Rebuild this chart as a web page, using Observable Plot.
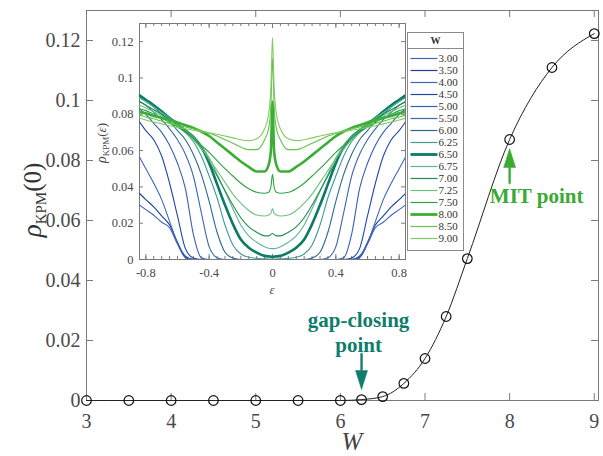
<!DOCTYPE html>
<html><head><meta charset="utf-8">
<script src="https://cdn.jsdelivr.net/npm/d3@7"></script>
<script src="https://cdn.jsdelivr.net/npm/@observablehq/plot@0.6"></script>
<style>
body{margin:0;background:#fff;}
#wrap{position:relative;width:603px;height:456px;font-family:"Liberation Serif",serif;background:#fff;}
#wrap svg{position:absolute;overflow:visible;}
</style></head><body><div id="wrap"></div>
<script>
// ---------- main chart data ----------
const W = [3, 3.5, 4, 4.5, 5, 5.5, 6, 6.25, 6.5, 6.75, 7, 7.25, 7.5, 8, 8.5, 9];
const rho0 = [0, 0, 0, 0, 0, 0, 0, 0.0003, 0.0013, 0.0057, 0.014, 0.028, 0.0473, 0.087, 0.111, 0.1223];
const xTicks = [3, 4, 5, 6, 7, 8, 9];
const yTicks = [0, 0.02, 0.04, 0.06, 0.08, 0.1, 0.12];

// ---------- inset data (symmetric in epsilon; values for eps >= 0) ----------
const eps = [0, 0.01, 0.025, 0.05, 0.1, 0.15, 0.2, 0.25, 0.3, 0.35, 0.4, 0.45, 0.5, 0.55, 0.6, 0.65, 0.7, 0.75, 0.8, 0.84];
const rho_W300 = [0,0,0,0,0,0,0,0,0,0,0,0,0,0.001,0.0085,0.0175,0.0205,0.0244,0.0275,0.030];
const rho_W350 = [0,0,0,0,0,0,0,0,0,0,0,0,0,0.0015,0.0095,0.019,0.024,0.029,0.033,0.0364];
const rho_W400 = [0,0,0,0,0,0,0,0,0,0,0,0,0,0.002,0.009,0.021,0.033,0.042,0.050,0.0565];
const rho_W450 = [0,0,0,0,0,0,0,0,0,0,0,0,0.0008,0.006,0.024,0.042,0.057,0.066,0.071,0.0758];
const rho_W500 = [0,0,0,0,0,0,0,0,0,0,0,0.001,0.014,0.039,0.053,0.063,0.070,0.075,0.080,0.083];
const rho_W550 = [0,0,0,0,0,0,0,0,0,0.001,0.007,0.026,0.046,0.058,0.066,0.072,0.077,0.081,0.085,0.087];
const rho_W600 = [0,0,0,0,0,0,0,0.0008,0.004,0.015,0.032,0.047,0.058,0.066,0.071,0.076,0.080,0.084,0.087,0.0895];
const rho_W625 = [0.0003,0.0003,0.0003,0.0004,0.0006,0.0012,0.003,0.008,0.019,0.034,0.046,0.057,0.065,0.070,0.074,0.078,0.082,0.085,0.088,0.0905];
const rho_W650 = [0.0015,0.0016,0.0017,0.002,0.0038,0.0065,0.011,0.0195,0.030,0.0415,0.053,0.062,0.0675,0.071,0.0745,0.078,0.0815,0.085,0.088,0.0905];
const rho_W675 = [0.006,0.006,0.0062,0.007,0.0095,0.013,0.019,0.028,0.0375,0.047,0.056,0.0625,0.0675,0.071,0.0745,0.078,0.081,0.084,0.087,0.089];
const rho_W700 = [0.0143,0.0138,0.013,0.013,0.015,0.018,0.023,0.030,0.038,0.046,0.054,0.061,0.0665,0.0705,0.074,0.077,0.080,0.0825,0.085,0.087];
const rho_W725 = [0.028,0.0255,0.0245,0.024,0.0245,0.027,0.031,0.036,0.0425,0.049,0.0555,0.061,0.066,0.070,0.0735,0.0765,0.079,0.0815,0.0835,0.085];
const rho_W750 = [0.047,0.040,0.037,0.0365,0.037,0.039,0.042,0.046,0.050,0.0545,0.059,0.063,0.067,0.070,0.073,0.0755,0.078,0.080,0.082,0.083];
const rho_W800 = [0.087,0.060,0.052,0.0485,0.0485,0.051,0.054,0.0575,0.061,0.0645,0.068,0.0705,0.0725,0.074,0.0755,0.077,0.078,0.079,0.0805,0.0813];
const rho_W850 = [0.111,0.085,0.072,0.066,0.0605,0.0605,0.062,0.064,0.066,0.068,0.0695,0.071,0.072,0.073,0.074,0.075,0.0762,0.0775,0.0785,0.0795];
const rho_W900 = [0.1223,0.095,0.080,0.072,0.0665,0.0655,0.066,0.067,0.068,0.069,0.0698,0.0705,0.0712,0.072,0.0728,0.0737,0.0747,0.0757,0.0768,0.078];
const insetSeries = [rho_W300, rho_W350, rho_W400, rho_W450, rho_W500, rho_W550, rho_W600, rho_W625,
                     rho_W650, rho_W675, rho_W700, rho_W725, rho_W750, rho_W800, rho_W850, rho_W900];
const seriesColors = ["#3e64bc","#1d3f9c","#3e66ba","#2049a6","#3562b4","#3b6aaa","#2a6a92","#3f9a98",
                      "#0d7a66","#5cb592","#1f8f4c","#6cc27c","#2ba63f","#3aae35","#62c24c","#82cc5e"];
const thickW = [6.5, 8];
const insetXTicks = [-0.8, -0.4, 0, 0.4, 0.8];
const insetYTicks = [0, 0.02, 0.04, 0.06, 0.08, 0.1, 0.12];

// annotations
const mitPoint = [{W: 8, r: 0.087}];
const gapPoint = [{W: 6.25, r: 0.0003}];
const mitColor = "#3aaa35", gapColor = "#0f7d6c";

const font = '"Liberation Serif", "Times New Roman", serif';
const axisColor = "#7a7a7a", textColor = "#4a4a4a";

const mainData = W.map((w, i) => ({W: w, r: rho0[i]}));
function mirror(vals) {
  const pts = [];
  for (let i = eps.length - 1; i > 0; i--) pts.push({e: -eps[i], r: vals[i]});
  for (let i = 0; i < eps.length; i++) pts.push({e: eps[i], r: vals[i]});
  return pts;
}
const curves = W.map((w, i) => ({W: w, pts: mirror(insetSeries[i]), color: seriesColors[i], thick: thickW.includes(w)}));

const arrowShape = {
  draw(ctx, l) {
    const hw = 6, hh = 19, sw = 0.9;
    ctx.moveTo(-sw, 0); ctx.lineTo(-sw, -l + hh); ctx.lineTo(-hw, -l + hh); ctx.lineTo(0, -l);
    ctx.lineTo(hw, -l + hh); ctx.lineTo(sw, -l + hh); ctx.lineTo(sw, 0); ctx.closePath();
  }
};

const wrap = document.getElementById("wrap");

// ---------- main plot ----------
const main = Plot.plot({
  width: 603, height: 456, marginLeft: 86, marginRight: 5, marginTop: 10, marginBottom: 56,
  style: {fontFamily: font, background: "transparent", color: textColor},
  x: {domain: [3, 9.05]},
  y: {domain: [0, 0.13]},
  marks: [
    Plot.frame({stroke: axisColor}),
    Plot.ruleX(xTicks, {insetTop: 383, stroke: axisColor}),
    Plot.ruleX(xTicks, {insetBottom: 383, stroke: axisColor}),
    Plot.ruleY(yTicks, {insetRight: 505, stroke: axisColor}),
    Plot.ruleY(yTicks, {insetLeft: 505, stroke: axisColor}),
    Plot.axisX(xTicks, {tickSize: 0, tickPadding: 13, fontSize: 20, label: null, fill: textColor}),
    Plot.axisY(yTicks, {tickSize: 0, tickPadding: 6, fontSize: 20, label: null, fill: textColor, tickFormat: d => String(d)}),
    Plot.line(mainData, {x: "W", y: "r", curve: "monotone-x", stroke: "#222", strokeWidth: 1}),
    Plot.dot(mainData, {x: "W", y: "r", r: 4.8, stroke: "#111", fill: "none", strokeWidth: 1.2}),
    Plot.vector(mitPoint, {x: "W", y: "r", dy: 44, length: 35, anchor: "start", shape: arrowShape, fill: mitColor, stroke: mitColor, strokeWidth: 0.5}),
    Plot.text(mitPoint, {x: "W", y: "r", text: () => "MIT point", dx: 27, dy: 57, fill: mitColor, fontWeight: "bold", fontSize: 21, textAnchor: "middle", lineAnchor: "middle"}),
    Plot.vector(gapPoint, {x: "W", y: "r", dy: -46, length: 36, rotate: 180, anchor: "start", shape: arrowShape, fill: gapColor, stroke: gapColor, strokeWidth: 0.5}),
    Plot.text(gapPoint, {x: "W", y: "r", text: () => "gap-closing\npoint", dx: -3, dy: -68, fill: gapColor, fontWeight: "bold", fontSize: 21, lineHeight: 1.2, textAnchor: "middle", lineAnchor: "middle"})
  ]
});
main.style.left = "0px"; main.style.top = "0px";
wrap.appendChild(main);
{
  const s = d3.select(main);
  const yl = s.append("text").attr("transform", "translate(41,200) rotate(-90)").attr("text-anchor", "middle")
    .attr("fill", "#333").attr("font-family", font);
  yl.append("tspan").attr("font-style", "italic").attr("font-size", 27).text("ρ");
  yl.append("tspan").attr("font-size", 15).attr("dy", 5).text("KPM");
  yl.append("tspan").attr("font-size", 25).attr("dy", -5).text("(0)");
  s.append("text").attr("x", 352).attr("y", 450).attr("text-anchor", "middle").attr("font-style", "italic")
    .attr("font-size", 25).attr("fill", "#444").attr("font-family", font).text("W");
}

// ---------- inset ----------
const inset = Plot.plot({
  width: 315, height: 284, marginLeft: 47, marginRight: 2, marginTop: 10, marginBottom: 38,
  style: {fontFamily: font, background: "transparent", color: textColor},
  x: {domain: [-0.84, 0.84]},
  y: {domain: [0, 0.13]},
  marks: [
    Plot.frame({fill: "white", stroke: axisColor}),
    Plot.ruleX(d3.range(-16, 17).map(i => i * 0.05), {insetTop: 233, stroke: axisColor}),
    Plot.ruleX(d3.range(-16, 17).map(i => i * 0.05), {insetBottom: 233, stroke: axisColor}),
    Plot.ruleX(insetXTicks, {insetTop: 231, stroke: axisColor}),
    Plot.ruleX(insetXTicks, {insetBottom: 231, stroke: axisColor}),
    Plot.ruleY(insetYTicks, {insetRight: 262, stroke: axisColor}),
    Plot.ruleY(insetYTicks, {insetLeft: 262, stroke: axisColor}),
    Plot.axisX(insetXTicks, {tickSize: 0, tickPadding: 9, fontSize: 12.5, label: null, fill: textColor, tickFormat: d => String(d)}),
    Plot.axisY(insetYTicks, {tickSize: 0, tickPadding: 6, fontSize: 12.5, label: null, fill: textColor, tickFormat: d => String(d)}),
    ...curves.map(c => Plot.line(c.pts, {x: "e", y: "r", stroke: c.color, strokeWidth: c.thick ? 2.6 : 1.1, curve: "monotone-x", clip: true}))
  ]
});
inset.style.left = "92px"; inset.style.top = "13px";
wrap.appendChild(inset);
{
  const s = d3.select(inset);
  const yl = s.append("text").attr("transform", "translate(14,130) rotate(-90)").attr("text-anchor", "middle")
    .attr("fill", "#444").attr("font-family", font);
  yl.append("tspan").attr("font-style", "italic").attr("font-size", 14).text("ρ");
  yl.append("tspan").attr("font-size", 9).attr("dy", 3).text("KPM");
  yl.append("tspan").attr("font-size", 13).attr("dy", -3).text("(");
  yl.append("tspan").attr("font-size", 13).attr("font-style", "italic").text("ε");
  yl.append("tspan").attr("font-size", 13).text(")");
  s.append("text").attr("x", 180).attr("y", 281).attr("text-anchor", "middle").attr("font-style", "italic")
    .attr("font-size", 13).attr("fill", "#444").attr("font-family", font).text("ε");
}

// ---------- legend ----------
const legendItems = W.map((w, i) => ({label: w.toFixed(2), color: seriesColors[i], thick: thickW.includes(w)}));
const legend = Plot.plot({
  width: 56, height: 218, margin: 0,
  style: {fontFamily: font, background: "transparent", color: "#333"},
  x: {domain: [0, 56], range: [0, 56], axis: null},
  y: {type: "point", domain: legendItems.map(d => d.label), range: [23, 209], padding: 0, axis: null},
  marks: [
    Plot.frame({fill: "white", stroke: "#8a8a8a"}),
    Plot.frame({stroke: "#8a8a8a", insetBottom: 202}),
    Plot.text(["W"], {frameAnchor: "top", dy: 8, fontWeight: "bold", fontSize: 10, fill: "#333", lineAnchor: "middle"}),
    Plot.link(legendItems, {x1: () => 3, x2: () => 30, y1: "label", y2: "label", stroke: "color", strokeWidth: d => d.thick ? 2.8 : 1.2}),
    Plot.text(legendItems, {x: () => 31, y: "label", text: "label", textAnchor: "start", fontSize: 11, fill: "#333"})
  ]
});
legend.style.left = "407px"; legend.style.top = "32px";
wrap.appendChild(legend);
</script></body></html>
